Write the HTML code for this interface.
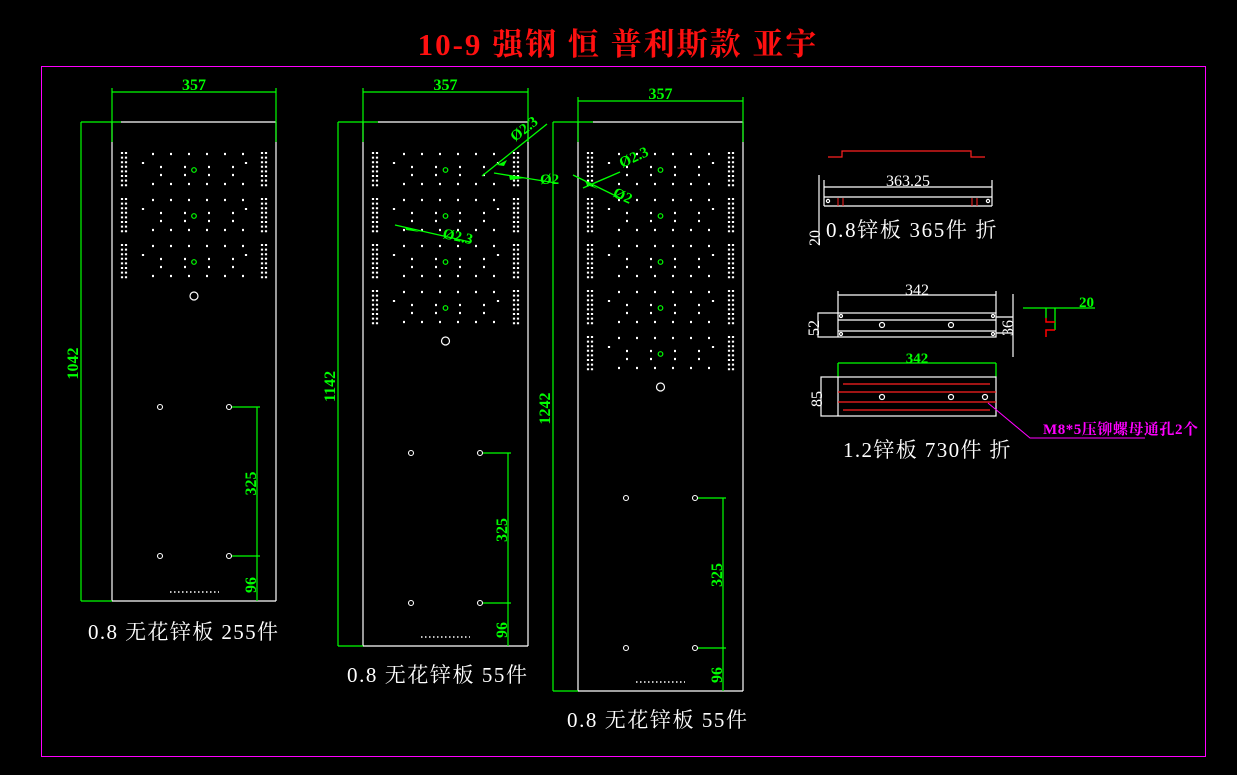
<!DOCTYPE html>
<html><head><meta charset="utf-8"><style>
html,body{margin:0;padding:0;background:#000;width:1237px;height:775px;overflow:hidden}
svg{display:block}
text{font-family:"Liberation Serif","Noto Serif CJK SC",serif}
.g{stroke:#00ff00;fill:none;stroke-width:1.3}
.w{stroke:#fff;fill:none;stroke-width:1.2}
.gt{fill:#00ff00;font-size:15px;font-weight:bold}
.wt{fill:#fff;font-size:21px;letter-spacing:1.5px}
</style></head><body>
<svg id="s" width="1237" height="775" viewBox="0 0 1237 775" xmlns="http://www.w3.org/2000/svg">
<rect x="41.5" y="66.5" width="1164" height="690" fill="none" stroke="#ff00ff" stroke-width="1"/>
<text x="618" y="55" text-anchor="middle" fill="#ff1010" font-size="31" letter-spacing="2" style="font-weight:bold">10-9 强钢 恒 普利斯款 亚宇</text>
<g id="panels"></g>

<g class="g">
<line x1="482" y1="176" x2="547" y2="124"/>
<line x1="494" y1="173" x2="556" y2="183"/>
<line x1="395" y1="225" x2="470" y2="242"/>
<line x1="573" y1="175" x2="620" y2="198"/>
<line x1="583" y1="188" x2="620" y2="172"/>
</g>
<g fill="#00ff00"><polygon points="497,165 507,160 504,166"/><polygon points="509,175 525,178 510,180"/><polygon points="405,227 420,232 406,230"/><polygon points="585,181 598,189 587,185"/><polygon points="592,184 607,177 595,182"/></g>
<text class="gt" transform="translate(515,142) rotate(-38)">Ø2.3</text>
<text class="gt" x="540" y="184">Ø2</text>
<text class="gt" transform="translate(442,238) rotate(12)">Ø2.3</text>
<text class="gt" transform="translate(622,168) rotate(-25)">Ø2.3</text>
<text class="gt" transform="translate(612,196) rotate(25)">Ø2</text>

<polyline points="828,157 842,157 842,151 971,151 971,157 985,157" fill="none" stroke="#ff2020" stroke-width="1.2"/>
<g class="w"><line x1="824" y1="187" x2="992" y2="187"/><line x1="824" y1="180" x2="824" y2="206"/><line x1="992" y1="180" x2="992" y2="206"/><line x1="824" y1="197" x2="992" y2="197"/><line x1="824" y1="206" x2="992" y2="206"/><line x1="819" y1="175" x2="819" y2="245"/>
<circle cx="828" cy="201" r="1.6"/><circle cx="988" cy="201" r="1.6"/></g>
<g stroke="#ff2020" stroke-width="1"><line x1="838" y1="198" x2="838" y2="206"/><line x1="843" y1="198" x2="843" y2="206"/><line x1="972" y1="198" x2="972" y2="206"/><line x1="977" y1="198" x2="977" y2="206"/></g>
<text x="908" y="186" fill="#fff" font-size="16" text-anchor="middle">363.25</text>
<text fill="#fff" font-size="16" transform="translate(820,246) rotate(-90)">20</text>
<text class="wt" x="826" y="237" textLength="172">0.8锌板 365件 折</text>

<g class="w"><line x1="838" y1="295" x2="996" y2="295"/><line x1="838" y1="291" x2="838" y2="313"/><line x1="996" y1="291" x2="996" y2="313"/>
<rect x="818" y="313" width="178" height="24"/><line x1="838" y1="313" x2="838" y2="337"/><line x1="838" y1="320" x2="996" y2="320"/><line x1="838" y1="331" x2="996" y2="331"/>
<line x1="996" y1="317" x2="1013" y2="317"/><line x1="996" y1="333" x2="1013" y2="333"/><line x1="1013" y1="294" x2="1013" y2="357"/>
<circle cx="882" cy="325" r="2.5"/><circle cx="951" cy="325" r="2.5"/><circle cx="841" cy="316" r="1.5"/><circle cx="993" cy="316" r="1.5"/><circle cx="841" cy="334" r="1.5"/><circle cx="993" cy="334" r="1.5"/></g>
<text x="917" y="295" fill="#fff" font-size="16" text-anchor="middle">342</text>
<text fill="#fff" font-size="16" transform="translate(819,336) rotate(-90)">52</text>
<text fill="#fff" font-size="16" transform="translate(1013,336) rotate(-90)">36</text>
<g class="g"><line x1="1023" y1="308" x2="1095" y2="308"/><line x1="1046" y1="308" x2="1046" y2="318"/><line x1="1055" y1="308" x2="1055" y2="330"/></g>
<polyline points="1046,318 1046,322 1055,322" fill="none" stroke="#f00" stroke-width="1.5"/>
<polyline points="1046,337 1046,330 1055,330" fill="none" stroke="#f00" stroke-width="1.5"/>
<text class="gt" x="1079" y="307">20</text>

<g class="g"><line x1="838" y1="363" x2="996" y2="363"/><line x1="838" y1="363" x2="838" y2="377"/><line x1="996" y1="363" x2="996" y2="377"/></g>
<text class="gt" x="917" y="363" text-anchor="middle">342</text>
<g class="w"><rect x="821" y="377" width="175" height="39"/><line x1="838" y1="377" x2="838" y2="416"/>
<circle cx="882" cy="397" r="2.5"/><circle cx="951" cy="397" r="2.5"/><circle cx="985" cy="397" r="2.5"/></g>
<g stroke="#ff2020" stroke-width="1.2"><line x1="843" y1="384" x2="990" y2="384"/><line x1="838" y1="392" x2="996" y2="392"/><line x1="838" y1="402" x2="996" y2="402"/><line x1="843" y1="410" x2="990" y2="410"/></g>
<text fill="#fff" font-size="16" transform="translate(822,407) rotate(-90)">85</text>
<polyline points="988,403 1030,438 1145,438" fill="none" stroke="#ff00ff" stroke-width="1"/>
<text x="1043" y="434" fill="#ff00ff" font-size="15" textLength="155" style="font-weight:bold">M8*5压铆螺母通孔2个</text>
<text class="wt" x="843" y="457" textLength="169">1.2锌板 730件 折</text>
</svg>
<script>
var NS="http://www.w3.org/2000/svg",P=document.getElementById("panels");
function el(t,a){var e=document.createElementNS(NS,t);for(var k in a)e.setAttribute(k,a[k]);P.appendChild(e);return e}
function txt(s,a){var e=el("text",a);e.textContent=s;return e}
function L(x1,y1,x2,y2,c,w,d){var a={x1:x1,y1:y1,x2:x2,y2:y2,stroke:c,"stroke-width":w||1.2};if(d)a["stroke-dasharray"]=d;return el("line",a)}
function panel(x0,x1,bottom,dimY,vx,nb,circY,h1,h2,lab,labX,labY,total,lw){
 var G="#00ff00",W="#fff";
 L(x0,122,x0,bottom,W);L(x1,122,x1,bottom,W);L(x0,bottom,x1,bottom,W);
 L(vx+40,122,x1,122,W);L(vx,122,vx+40,122,G);L(vx,bottom,x0,bottom,G);
 L(vx,122,vx,bottom,G);L(x0,dimY,x1,dimY,G);L(x0,dimY-4,x0,142,G);L(x1,dimY-4,x1,142,G);
 txt("357",{x:(x0+x1)/2,y:dimY-2,fill:G,"font-size":16,"text-anchor":"middle","font-weight":"bold"});
 txt(total,{transform:"translate("+(vx-3)+","+((122+bottom)/2+18)+") rotate(-90)",fill:G,"font-size":16,"font-weight":"bold"});
 for(var b=0;b<nb;b++){var y=152+b*46;
  [x0+10,x0+14,x1-14,x1-10].forEach(function(x){L(x,y,x,y+36,W,2.2,"2 2.6")});
  L(x0+40,y+2,x1-20,y+2,W,2.2,"2 16");L(x0+40,y+32,x1-20,y+32,W,2.2,"2 16");
  L(x0+31,y+10,x0+31,y+28,W,2.2,"2 16");L(x1-30,y+10,x1-30,y+28,W,2.2,"2 16");
  L(x0+48,y+15,x1-40,y+15,W,2.2,"2 22");L(x0+48,y+23,x1-40,y+23,W,2.2,"2 22");
  el("circle",{cx:(x0+x1)/2,cy:y+18,r:2.3,fill:"none",stroke:G,"stroke-width":1.2});}
 el("circle",{cx:(x0+x1)/2,cy:circY,r:4,fill:"none",stroke:W,"stroke-width":1.2});
 [[x0+48,h1],[x0+117,h1],[x0+48,h2],[x0+117,h2]].forEach(function(p){el("circle",{cx:p[0],cy:p[1],r:2.5,fill:"none",stroke:W,"stroke-width":1.1})});
 var dx=x0+145;L(x0+120,h1,dx+3,h1,G);L(x0+120,h2,dx+3,h2,G);L(dx,h1,dx,bottom,G);
 txt("325",{transform:"translate("+(dx-1)+","+((h1+h2)/2+14)+") rotate(-90)",fill:G,"font-size":16,"font-weight":"bold"});
 txt("96",{transform:"translate("+(dx-1)+","+(bottom-8)+") rotate(-90)",fill:G,"font-size":16,"font-weight":"bold"});
 L(x0+58,bottom-9,x0+107,bottom-9,W,1.5,"1.5 2.5");
 txt(lab,{x:labX,y:labY,fill:W,"font-size":21,textLength:lw});
}
panel(112,276,601,92,81,3,296,407,556,"0.8 无花锌板 255件",88,639,"1042",190);
panel(363,528,646,92,338,4,341,453,603,"0.8 无花锌板 55件",347,682,"1142",180);
panel(578,743,691,101,553,5,387,498,648,"0.8 无花锌板 55件",567,727,"1242",180);
</script>
</body></html>
